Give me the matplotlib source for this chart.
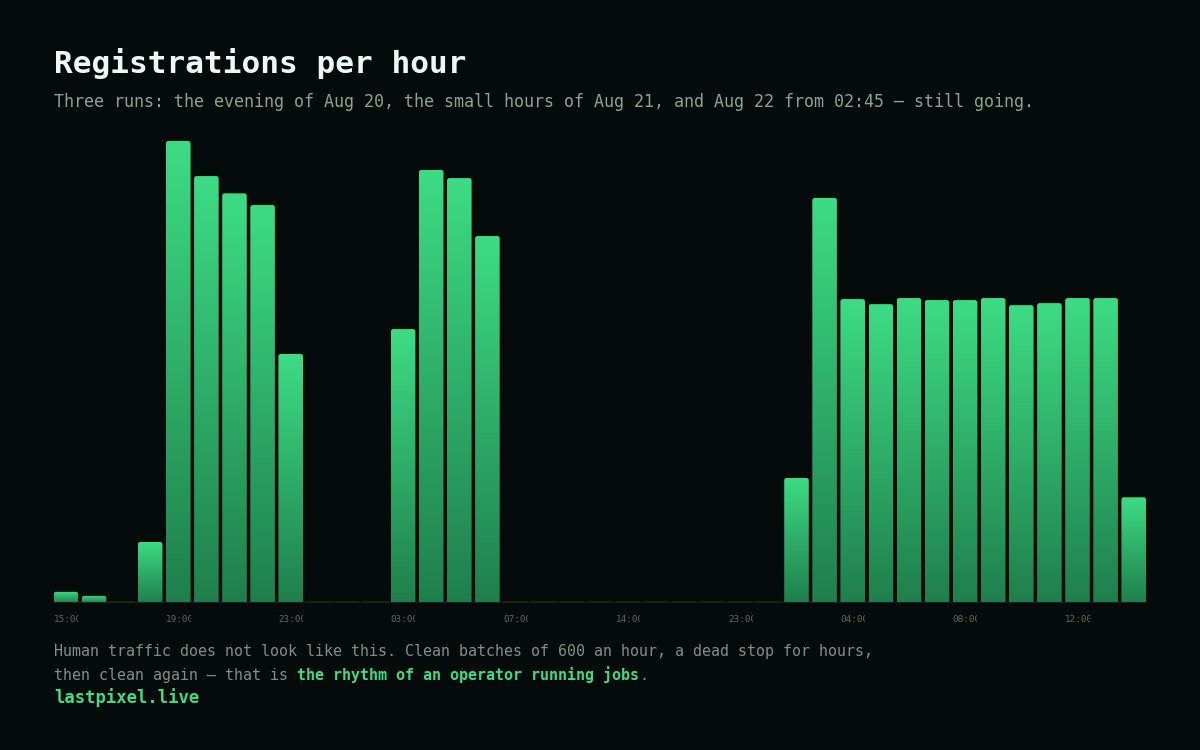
import matplotlib
matplotlib.use("Agg")
import matplotlib.pyplot as plt
import numpy as np
from matplotlib.colors import LinearSegmentedColormap
from matplotlib.patches import FancyBboxPatch, Rectangle
from matplotlib.transforms import Bbox, TransformedBbox

# registrations per hourly bucket (39 buckets, gaps in time collapsed)
counts = [22, 14, 0, 120, 909, 840, 806, 783, 490,
          0, 0, 0,
          539, 852, 836, 722,
          0, 0, 0, 0, 0, 0, 0, 0, 0, 0,
          246, 797, 598, 588, 600, 596, 596, 600, 586, 590, 600, 600, 208]
tick_idx = [0, 4, 8, 12, 16, 20, 24, 28, 32, 36]
tick_labels = ["15:00", "19:00", "23:00", "03:00", "07:00",
               "14:00", "23:00", "04:00", "08:00", "12:00"]

BG = "#050b0a"
TOP = "#3ddc84"
BOT = "#1f7f4c"
ZERO = "#16241c"
MONO = "DejaVu Sans Mono"

W, H = 1200, 750
fig = plt.figure(figsize=(12, 7.5), dpi=100, facecolor=BG)
ax = fig.add_axes([53.6 / W, 147 / H, 1092.4 / W, 468 / H])
ax.set_facecolor(BG)
for s in ax.spines.values():
    s.set_visible(False)
ax.set_xticks([]); ax.set_yticks([])

bw = 0.875
ymax = max(counts) * 468 / 462
ax.set_xlim(-bw / 2, len(counts) - 1 + bw / 2)
ax.set_ylim(0, ymax)

cmap = LinearSegmentedColormap.from_list("g", [BOT, TOP])
grad = np.linspace(0, 1, 256).reshape(-1, 1)
px_per_unit_y = 462 / max(counts)
rad_y = 2.5 / px_per_unit_y
rad_x = 2.5 / 28.1

for i, v in enumerate(counts):
    x0 = i - bw / 2
    if v <= 0:
        ax.add_patch(Rectangle((x0, 0), bw, 2.2 / px_per_unit_y, color=ZERO, lw=0))
        continue
    patch = FancyBboxPatch((x0, -20), bw, v + 20,
                           boxstyle=f"round,pad=0,rounding_size={rad_x}",
                           mutation_aspect=rad_y / rad_x,
                           facecolor="none", edgecolor="none")
    ax.add_patch(patch)
    im = ax.imshow(grad, cmap=cmap, origin="lower", aspect="auto",
                   extent=(x0, x0 + bw, 0, v), interpolation="bilinear", zorder=2)
    im.set_clip_path(patch)

ax.axhline(0, color=ZERO, lw=1.5, zorder=3)

# tick labels: left aligned at bar edge, clipped to bar width
xt = ax.get_xaxis_transform()
for i, lab in zip(tick_idx, tick_labels):
    x0 = i - bw / 2
    t = ax.text(x0, -0.036, lab, transform=xt, ha="left", va="center",
                fontsize=6.7, family=MONO, color="#5a6961")
    t.set_clip_box(TransformedBbox(Bbox.from_extents(x0, -0.1, x0 + bw, 0), xt))
    t.set_clip_on(True)

# header
fig.text(54 / W, 1 - 73 / H, "Registrations per hour", fontsize=22.4,
         fontweight="bold", family=MONO, color="#eef7f1", ha="left", va="baseline")
fig.text(54 / W, 1 - 107 / H,
         "Three runs: the evening of Aug 20, the small hours of Aug 21, and Aug 22 from 02:45 — still going.",
         fontsize=11.97, family=MONO, color="#8aa395", ha="left", va="baseline")

# footer
CAP = "#7f8f86"
fig.text(54 / W, 1 - 656 / H,
         "Human traffic does not look like this. Clean batches of 600 an hour, a dead stop for hours,",
         fontsize=10.8, family=MONO, color=CAP, ha="left", va="baseline")
r = fig.canvas.get_renderer()
t1 = fig.text(54 / W, 1 - 680 / H, "then clean again — that is ", fontsize=10.8,
              family=MONO, color=CAP, ha="left", va="baseline")
x1 = t1.get_window_extent(r).x1 / W
t2 = fig.text(x1, 1 - 680 / H, "the rhythm of an operator running jobs", fontsize=10.8,
              family=MONO, fontweight="bold", color=TOP, ha="left", va="baseline")
x2 = t2.get_window_extent(r).x1 / W
fig.text(x2, 1 - 680 / H, ".", fontsize=10.8, family=MONO, color=CAP,
         ha="left", va="baseline")
fig.text(54 / W, 1 - 703 / H, "lastpixel.live", fontsize=12.4, family=MONO,
         fontweight="bold", color=TOP, ha="left", va="baseline")

fig.savefig("out.png", dpi=100, facecolor=BG)
